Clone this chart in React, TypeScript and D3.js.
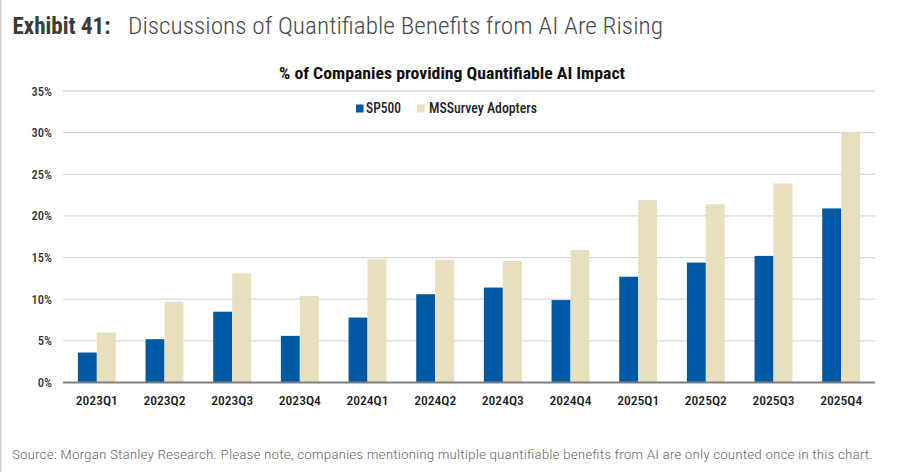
import React, { useEffect, useRef } from "react";
import * as d3 from "d3";

const quarters = [
  "2023Q1", "2023Q2", "2023Q3", "2023Q4",
  "2024Q1", "2024Q2", "2024Q3", "2024Q4",
  "2025Q1", "2025Q2", "2025Q3", "2025Q4",
];
const seriesNames = ["SP500", "MSSurvey Adopters"];
const sp500 = [3.6, 5.2, 8.5, 5.6, 7.8, 10.6, 11.4, 9.9, 12.7, 14.4, 15.2, 20.9];
const msSurvey = [6.0, 9.7, 13.1, 10.4, 14.8, 14.7, 14.6, 15.9, 21.9, 21.4, 23.9, 30.1];
const yTicks = [0, 5, 10, 15, 20, 25, 30, 35];

const colors = ["#0059a4", "#e8dfbd"];
const font = "'Roboto Condensed', Roboto, sans-serif";

const App: React.FC = () => {
  const svgRef = useRef<SVGSVGElement | null>(null);

  useEffect(() => {
    if (!svgRef.current) return;
    document.body.style.margin = "0";
    const svg = d3.select(svgRef.current);
    svg.selectAll("*").remove();

    const width = 916;
    const height = 472;
    svg.attr("width", width).attr("height", height);

    svg.append("rect").attr("width", width).attr("height", height).attr("fill", "#fff");
    // left frame line
    svg.append("line")
      .attr("x1", 0.5).attr("x2", 0.5).attr("y1", 0).attr("y2", height)
      .attr("stroke", "#d0d0d0").attr("stroke-width", 2);

    // title
    svg.append("text")
      .attr("x", 12.5).attr("y", 34)
      .attr("font-family", font).attr("font-size", 23).attr("font-weight", 700)
      .attr("fill", "#3a3a3a")
      .attr("textLength", 98).attr("lengthAdjust", "spacingAndGlyphs")
      .text("Exhibit 41:");
    svg.append("text")
      .attr("x", 128).attr("y", 34)
      .attr("font-family", font).attr("font-size", 23).attr("font-weight", 300)
      .attr("fill", "#4a4a4a")
      .attr("textLength", 535).attr("lengthAdjust", "spacingAndGlyphs")
      .text("Discussions of Quantifiable Benefits from AI Are Rising");

    // chart subtitle
    svg.append("text")
      .attr("x", 279).attr("y", 79)
      .attr("font-family", font).attr("font-size", 16.5).attr("font-weight", 700)
      .attr("fill", "#111")
      .attr("textLength", 346).attr("lengthAdjust", "spacingAndGlyphs")
      .text("% of Companies providing Quantifiable AI Impact");

    const left = 63;
    const right = 875;
    const x = d3.scaleBand<string>()
      .domain(quarters)
      .range([left, right])
      .paddingInner(0.44)
      .paddingOuter(0.22);
    const xInner = d3.scaleBand<string>()
      .domain(seriesNames)
      .range([0, x.bandwidth()]);
    const y = d3.scaleLinear().domain([0, 35]).range([382.5, 91]);

    // gridlines
    svg.append("g")
      .selectAll("line")
      .data(yTicks.filter((t) => t > 0))
      .join("line")
      .attr("x1", left).attr("x2", right)
      .attr("y1", (d) => y(d)).attr("y2", (d) => y(d))
      .attr("stroke", "#d9d9d9").attr("stroke-width", 1.3);

    // y tick labels
    svg.append("g")
      .selectAll("text")
      .data(yTicks)
      .join("text")
      .attr("x", 52).attr("y", (d) => y(d) + 4.5)
      .attr("text-anchor", "end")
      .attr("font-family", font).attr("font-size", 12.5).attr("font-weight", 500)
      .attr("fill", "#333")
      .text((d) => `${d}%`);

    // bars
    const values = [sp500, msSurvey];
    seriesNames.forEach((name, si) => {
      svg.append("g")
        .selectAll("rect")
        .data(values[si])
        .join("rect")
        .attr("x", (_, i) => (x(quarters[i]) ?? 0) + (xInner(name) ?? 0))
        .attr("y", (d) => y(d))
        .attr("width", xInner.bandwidth())
        .attr("height", (d) => y(0) - y(d))
        .attr("fill", colors[si]);
    });

    // baseline
    svg.append("line")
      .attr("x1", left).attr("x2", right)
      .attr("y1", y(0)).attr("y2", y(0))
      .attr("stroke", "#7f7f7f").attr("stroke-width", 2);

    // x labels
    svg.append("g")
      .selectAll("text")
      .data(quarters)
      .join("text")
      .attr("x", (d) => (x(d) ?? 0) + x.bandwidth() / 2)
      .attr("y", 405)
      .attr("text-anchor", "middle")
      .attr("font-family", font).attr("font-size", 13.5).attr("font-weight", 500)
      .attr("fill", "#1a1a1a")
      .attr("textLength", 42).attr("lengthAdjust", "spacingAndGlyphs")
      .text((d) => d);

    // legend
    const legendItems = [
      { name: seriesNames[0], sx: 356, tx: 366, tw: 35 },
      { name: seriesNames[1], sx: 417, tx: 429, tw: 108 },
    ];
    legendItems.forEach((item, i) => {
      svg.append("rect")
        .attr("x", item.sx).attr("y", 104.5)
        .attr("width", 7.5).attr("height", 8)
        .attr("fill", colors[i]);
      svg.append("text")
        .attr("x", item.tx).attr("y", 113)
        .attr("font-family", font).attr("font-size", 14).attr("font-weight", 500)
        .attr("fill", "#222")
        .attr("textLength", item.tw).attr("lengthAdjust", "spacingAndGlyphs")
        .text(item.name);
    });

    // source note
    svg.append("text")
      .attr("x", 12).attr("y", 459)
      .attr("font-family", font).attr("font-size", 13).attr("font-weight", 300)
      .attr("fill", "#6a6a6a")
      .attr("textLength", 861).attr("lengthAdjust", "spacingAndGlyphs")
      .text("Source: Morgan Stanley Research. Please note, companies mentioning multiple quantifiable benefits from AI are only counted once in this chart.");
  }, []);

  return <svg ref={svgRef} style={{ display: "block" }}></svg>;
};

export default App;
